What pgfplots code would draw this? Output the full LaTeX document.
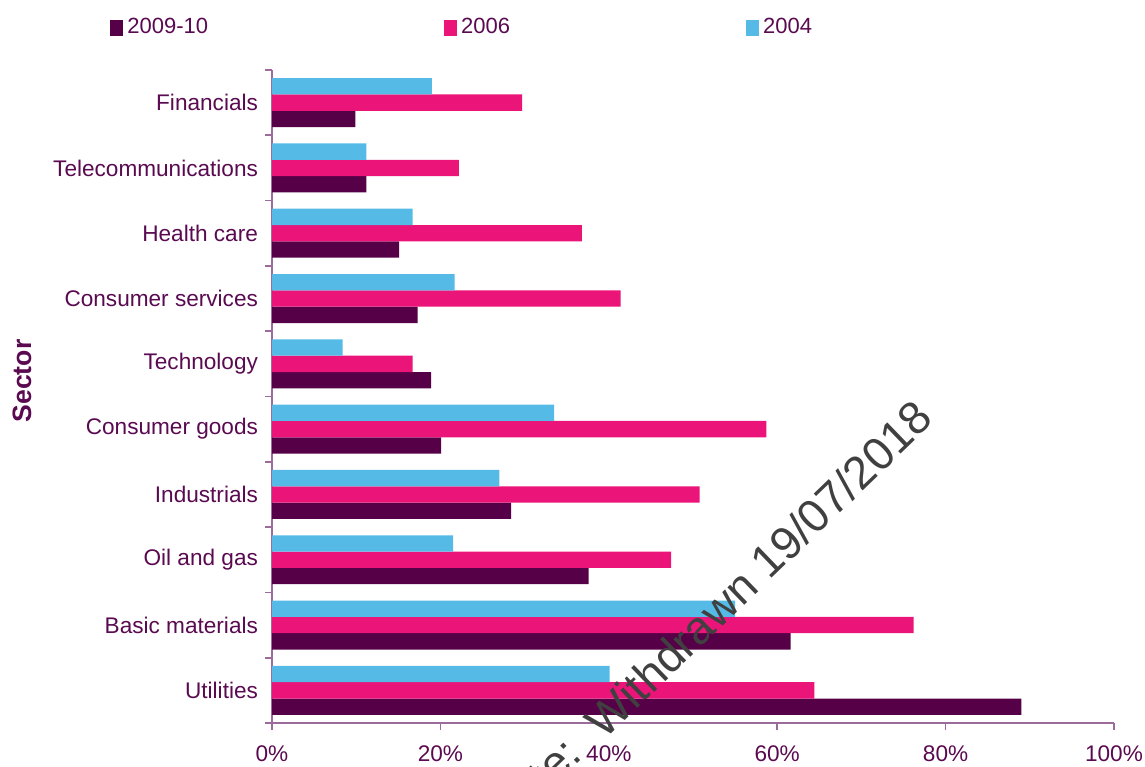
\documentclass[border=0pt]{standalone}
\usepackage{fontspec}
\setmainfont{Liberation Sans}
\usepackage{pgfplots}
\pgfplotsset{compat=1.18}
\definecolor{cA}{HTML}{560047}
\definecolor{cB}{HTML}{EB1478}
\definecolor{cC}{HTML}{55BBE6}
\definecolor{txt}{HTML}{5A0A50}
\definecolor{axc}{HTML}{9B6B9B}
\definecolor{wm}{HTML}{404040}
\begin{document}
\begin{tikzpicture}
\useasboundingbox (0,0) rectangle (572.5pt,383pt);
\begin{axis}[
  at={(136pt,21.5pt)}, anchor=south west,
  scale only axis, width=421pt, height=326.5pt,
  xbar, bar width=0.25,
  xmin=0, xmax=100, ymin=-0.5, ymax=9.5,
  axis x line*=bottom, axis y line*=left,
  axis line style={draw=axc, line width=0.8pt},
  xtick={0,20,40,60,80,100},
  xticklabels={0\%,20\%,40\%,60\%,80\%,100\%},
  ytick={0,...,9},
  yticklabels={Utilities,Basic materials,Oil and gas,Industrials,Consumer goods,Technology,Consumer services,Health care,Telecommunications,Financials},
  minor ytick={-0.5,0.5,...,9.5},
  tick align=outside,
  major tick length=3.5pt, minor tick length=3.5pt,
  tick style={draw=axc, line width=0.8pt},
  major y tick style={draw=none},
  tick label style={font=\fontsize{11.3}{13}\selectfont, text=txt},
  /pgf/number format/assume math mode=true,
  xticklabel style={yshift=-4.5pt},
  yticklabel style={xshift=0pt},
  ylabel={Sector},
  ylabel style={at={(axis description cs:-0.2969,0.5237)}, anchor=center, font=\fontsize{13.3}{15}\selectfont\bfseries, text=txt},
  legend columns=3,
  legend style={at={(axis description cs:-0.1924,1.0650)}, anchor=west, draw=none, fill=none, inner sep=0pt,
    font=\fontsize{11}{12}\selectfont, text=txt,
    /tikz/every even column/.append style={column sep=116pt}},
  legend image code/.code={\fill[#1] (0pt,-4pt) rectangle (6.5pt,4pt);},
]
\addplot[fill=cA, draw=none, bar shift=-0.25] coordinates {
(89.0,0) (61.6,1) (37.6,2) (28.4,3) (20.1,4) (18.9,5) (17.3,6) (15.1,7) (11.2,8) (9.9,9)};
\addplot[fill=cB, draw=none, bar shift=0] coordinates {
(64.4,0) (76.2,1) (47.4,2) (50.8,3) (58.7,4) (16.7,5) (41.4,6) (36.8,7) (22.2,8) (29.7,9)};
\addplot[fill=cC, draw=none, bar shift=0.25] coordinates {
(40.1,0) (55.0,1) (21.5,2) (27.0,3) (33.5,4) (8.4,5) (21.7,6) (16.7,7) (11.2,8) (19.0,9)};
\legend{2009-10,2006,2004}
\end{axis}
\node[anchor=base west, rotate=44, text=wm, font=\fontsize{23}{27}\selectfont, inner sep=0pt] at (302pt,12.5pt) {Withdrawn 19/07/2018};
\node[anchor=base east, rotate=44, text=wm, font=\fontsize{23}{27}\selectfont, inner sep=0pt] at (292pt,4.5pt) {Date:};
\end{tikzpicture}
\end{document}
